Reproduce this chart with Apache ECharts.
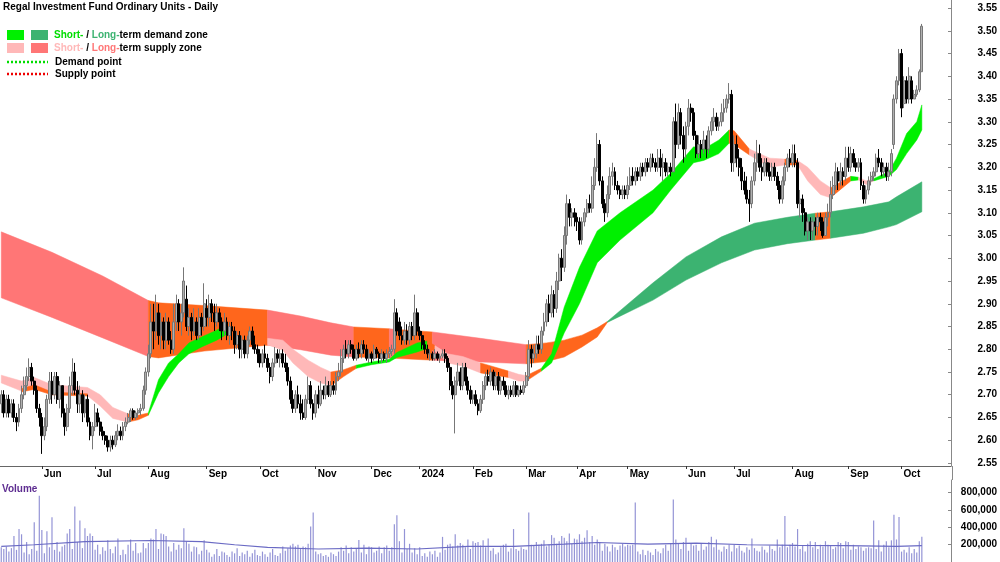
<!DOCTYPE html>
<html><head><meta charset="utf-8">
<script src="https://cdn.jsdelivr.net/npm/echarts@6/dist/echarts.min.js"></script>
<style>html,body{margin:0;padding:0;background:#fff}#c{width:1000px;height:562px}</style>
</head><body><div id="c"></div><script>
// ---------- categories ----------
const firstDay = '2023-05-10', lastDay = '2024-10-11';
const holidays = ['2023-06-12','2023-12-25','2023-12-26','2024-01-01','2024-01-26','2024-03-29','2024-04-01','2024-04-25','2024-06-10'];
const padDays = 11;
const monthNames = ['2024','Feb','Mar','Apr','May','Jun','Jul','Aug','Sep','Oct','Nov','Dec'];
const priceTicks = [2.55,2.60,2.65,2.70,2.75,2.80,2.85,2.90,2.95,3.00,3.05,3.10,3.15,3.20,3.25,3.30,3.35,3.40,3.45,3.50,3.55];
const volTicks = [200000,400000,600000,800000];

// ---------- price data (daily) ----------
const open = [
2.68,2.70,2.66,2.69,2.66, 2.68,2.65,2.64,2.67,2.70, 2.72,2.74,2.76,2.73,2.71, 2.67,2.65,2.61,2.63,2.69,
2.73,2.70,2.74,2.69,2.72, 2.66,2.63,2.67,2.72,2.75, 2.71,2.68,2.70,2.66,2.69, 2.64,2.61,2.63,2.66,2.64,
2.62,2.61,2.60,2.585,2.60, 2.59,2.61,2.62,2.61,2.63, 2.64,2.65,2.665,2.65,2.66, 2.665,2.67,2.71,2.75,2.79,
2.86,2.84,2.88,2.83,2.86, 2.82,2.86,2.82,2.80,2.86, 2.90,2.86,2.88,2.91,2.85, 2.87,2.84,2.86,2.83,2.87,
2.85,2.89,2.87,2.90,2.88, 2.86,2.88,2.86,2.84,2.86, 2.83,2.85,2.84,2.81,2.83, 2.80,2.82,2.79,2.82,2.84,
2.81,2.80,2.79,2.77,2.79, 2.78,2.76,2.74,2.77,2.79, 2.78,2.79,2.77,2.76,2.73, 2.69,2.67,2.70,2.68,2.66,
2.65,2.69,2.72,2.68,2.66, 2.70,2.68,2.71,2.70,2.72, 2.70,2.72,2.71,2.74,2.75, 2.78,2.80,2.79,2.81,2.80,
2.78,2.80,2.79,2.81,2.80, 2.78,2.79,2.78,2.80,2.79, 2.78,2.79,2.78,2.79,2.795, 2.80,2.88,2.86,2.83,2.82,
2.84,2.82,2.85,2.83,2.88, 2.84,2.83,2.81,2.80,2.79, 2.79,2.78,2.79,2.78,2.785, 2.79,2.78,2.76,2.72,2.70,
2.73,2.75,2.72,2.76,2.73, 2.71,2.69,2.70,2.68,2.665, 2.69,2.72,2.74,2.73,2.75, 2.72,2.74,2.71,2.73,2.72,
2.70,2.71,2.70,2.72,2.70, 2.71,2.705,2.72,2.74,2.80, 2.78,2.79,2.81,2.80,2.84, 2.86,2.90,2.88,2.92,2.89,
2.95,3.00,2.98,3.05,3.12, 3.09,3.10,3.09,3.08,3.04, 3.08,3.10,3.12,3.11,3.16, 3.20,3.25,3.17,3.12,3.10,
3.14,3.18,3.19,3.16,3.15, 3.14,3.15,3.14,3.16,3.18, 3.17,3.19,3.18,3.20,3.19, 3.21,3.20,3.22,3.21,3.20,
3.22,3.20,3.21,3.19,3.20, 3.19,3.30,3.25,3.32,3.27, 3.24,3.29,3.33,3.32,3.27, 3.23,3.25,3.24,3.26,3.24,
3.28,3.30,3.31,3.29,3.30, 3.32,3.33,3.35,3.36,3.21, 3.25,3.22,3.20,3.17,3.15, 3.13,3.12,3.17,3.21,3.23,
3.20,3.19,3.21,3.19,3.18, 3.20,3.18,3.16,3.13,3.17, 3.20,3.22,3.21,3.23,3.21, 3.12,3.13,3.10,3.06,3.08,
3.06,3.08,3.07,3.09,3.08, 3.05,3.09,3.10,3.14,3.16, 3.19,3.17,3.19,3.18,3.22, 3.20,3.23,3.21,3.20,3.21,
3.16,3.13,3.15,3.17,3.18, 3.19,3.22,3.21,3.19,3.20, 3.18,3.19,3.25,3.35,3.39, 3.45,3.34,3.39,3.35,3.39,
3.35,3.36,3.37,3.41];
const close = [
2.70,2.66,2.69,2.66,2.68, 2.65,2.64,2.67,2.70,2.72, 2.74,2.76,2.73,2.71,2.67, 2.65,2.61,2.63,2.69,2.73,
2.70,2.74,2.69,2.72,2.66, 2.63,2.67,2.72,2.75,2.71, 2.68,2.70,2.66,2.69,2.64, 2.61,2.63,2.66,2.64,2.62,
2.61,2.60,2.585,2.60,2.59, 2.61,2.62,2.61,2.63,2.64, 2.65,2.665,2.65,2.66,2.665, 2.67,2.71,2.75,2.79,2.86,
2.84,2.88,2.83,2.86,2.82, 2.86,2.82,2.80,2.86,2.90, 2.86,2.88,2.95,2.85,2.87, 2.84,2.86,2.83,2.87,2.85,
2.90,2.87,2.90,2.88,2.86, 2.88,2.86,2.84,2.86,2.83, 2.85,2.84,2.81,2.83,2.80, 2.82,2.79,2.82,2.84,2.81,
2.80,2.79,2.77,2.79,2.78, 2.76,2.74,2.77,2.79,2.78, 2.79,2.77,2.76,2.73,2.69, 2.67,2.70,2.68,2.66,2.65,
2.69,2.72,2.68,2.66,2.70, 2.68,2.71,2.70,2.72,2.70, 2.72,2.71,2.74,2.75,2.78, 2.80,2.79,2.81,2.80,2.78,
2.80,2.79,2.81,2.80,2.78, 2.79,2.78,2.80,2.79,2.78, 2.79,2.78,2.79,2.795,2.80, 2.88,2.84,2.83,2.82,2.84,
2.82,2.85,2.83,2.88,2.84, 2.83,2.81,2.80,2.79,2.79, 2.78,2.79,2.78,2.785,2.79, 2.78,2.76,2.72,2.70,2.73,
2.75,2.72,2.76,2.73,2.71, 2.69,2.70,2.68,2.665,2.69, 2.72,2.74,2.73,2.75,2.72, 2.74,2.71,2.73,2.72,2.70,
2.71,2.70,2.72,2.70,2.71, 2.705,2.72,2.74,2.80,2.78, 2.79,2.81,2.80,2.84,2.86, 2.90,2.88,2.92,2.89,2.95,
3.00,2.98,3.05,3.12,3.09, 3.10,3.09,3.08,3.04,3.08, 3.10,3.12,3.11,3.16,3.20, 3.25,3.17,3.12,3.10,3.14,
3.18,3.19,3.16,3.15,3.14, 3.15,3.14,3.16,3.18,3.17, 3.19,3.18,3.20,3.19,3.21, 3.20,3.22,3.21,3.20,3.22,
3.20,3.21,3.19,3.20,3.19, 3.30,3.25,3.32,3.27,3.24, 3.29,3.33,3.32,3.27,3.23, 3.25,3.24,3.26,3.24,3.28,
3.30,3.31,3.29,3.30,3.32, 3.33,3.35,3.36,3.21,3.25, 3.22,3.20,3.17,3.15,3.13, 3.12,3.17,3.21,3.23,3.20,
3.19,3.21,3.19,3.18,3.20, 3.18,3.16,3.13,3.17,3.20, 3.22,3.21,3.23,3.21,3.12, 3.13,3.10,3.06,3.08,3.06,
3.08,3.07,3.09,3.08,3.05, 3.09,3.10,3.14,3.16,3.19, 3.17,3.19,3.18,3.22,3.20, 3.23,3.21,3.20,3.21,3.16,
3.13,3.15,3.17,3.18,3.19, 3.22,3.21,3.19,3.20,3.18, 3.19,3.23,3.35,3.39,3.45, 3.33,3.39,3.35,3.40,3.35,
3.36,3.37,3.41,3.51];
const low = [
2.66,2.65,2.65,2.65,2.65, 2.64,2.62,2.63,2.66,2.69, 2.71,2.73,2.72,2.70,2.66, 2.63,2.57,2.60,2.62,2.68,
2.68,2.69,2.68,2.67,2.65, 2.61,2.62,2.66,2.70,2.70, 2.66,2.66,2.64,2.65,2.63, 2.60,2.58,2.62,2.63,2.61,
2.60,2.59,2.575,2.575,2.58, 2.585,2.60,2.60,2.60,2.62, 2.635,2.64,2.645,2.645,2.65, 2.655,2.665,2.70,2.74,2.78,
2.80,2.82,2.81,2.80,2.80, 2.80,2.81,2.79,2.79,2.84, 2.84,2.83,2.87,2.84,2.83, 2.82,2.83,2.82,2.82,2.83,
2.84,2.85,2.85,2.86,2.84, 2.85,2.84,2.82,2.83,2.82, 2.81,2.82,2.79,2.80,2.78, 2.78,2.78,2.78,2.81,2.80,
2.79,2.77,2.76,2.76,2.77, 2.75,2.725,2.73,2.76,2.77, 2.76,2.76,2.75,2.72,2.68, 2.66,2.66,2.67,2.645,2.645,
2.645,2.68,2.67,2.645,2.65, 2.67,2.675,2.69,2.69,2.695, 2.695,2.70,2.70,2.73,2.74, 2.77,2.78,2.78,2.79,2.775,
2.775,2.78,2.78,2.79,2.775, 2.77,2.77,2.775,2.78,2.77, 2.77,2.775,2.77,2.78,2.785, 2.79,2.83,2.82,2.81,2.81,
2.81,2.81,2.82,2.82,2.83, 2.82,2.80,2.79,2.78,2.775, 2.775,2.775,2.775,2.77,2.78, 2.77,2.75,2.71,2.69,2.615,
2.72,2.71,2.71,2.72,2.70, 2.68,2.68,2.675,2.655,2.66, 2.68,2.71,2.72,2.72,2.71, 2.71,2.70,2.70,2.71,2.695,
2.69,2.695,2.695,2.695,2.695, 2.70,2.70,2.715,2.73,2.76, 2.77,2.78,2.79,2.79,2.83, 2.85,2.86,2.87,2.87,2.88,
2.93,2.95,2.97,3.03,3.07, 3.07,3.07,3.06,3.03,3.03, 3.07,3.09,3.10,3.10,3.15, 3.19,3.16,3.11,3.08,3.09,
3.13,3.16,3.15,3.14,3.13, 3.13,3.13,3.13,3.15,3.16, 3.16,3.17,3.17,3.18,3.18, 3.19,3.19,3.20,3.19,3.19,
3.18,3.17,3.18,3.18,3.18, 3.19,3.22,3.24,3.25,3.21, 3.22,3.27,3.30,3.26,3.22, 3.22,3.22,3.23,3.22,3.23,
3.27,3.28,3.28,3.28,3.29, 3.30,3.32,3.34,3.19,3.19, 3.20,3.18,3.15,3.14,3.12, 3.08,3.11,3.16,3.19,3.19,
3.17,3.18,3.18,3.17,3.17, 3.17,3.15,3.12,3.12,3.16, 3.19,3.20,3.20,3.20,3.11, 3.09,3.08,3.05,3.04,3.04,
3.04,3.05,3.05,3.06,3.045, 3.05,3.07,3.09,3.13,3.15, 3.15,3.16,3.16,3.17,3.19, 3.19,3.20,3.19,3.19,3.15,
3.12,3.12,3.14,3.16,3.17, 3.18,3.20,3.18,3.18,3.17, 3.17,3.18,3.24,3.34,3.38, 3.31,3.33,3.34,3.34,3.34,
3.35,3.355,3.365,3.41];
const high = [
2.71,2.71,2.70,2.70,2.69, 2.69,2.66,2.68,2.72,2.74, 2.76,2.78,2.77,2.74,2.72, 2.68,2.66,2.65,2.70,2.75,
2.75,2.75,2.75,2.73,2.72, 2.67,2.68,2.74,2.78,2.77, 2.73,2.72,2.71,2.70,2.70, 2.65,2.64,2.68,2.67,2.65,
2.63,2.62,2.61,2.61,2.61, 2.62,2.635,2.63,2.64,2.65, 2.66,2.67,2.67,2.665,2.67, 2.68,2.72,2.76,2.81,2.90,
2.90,2.92,2.90,2.88,2.87, 2.88,2.87,2.84,2.90,2.92, 2.91,2.90,2.98,2.94,2.89, 2.88,2.89,2.87,2.89,2.88,
2.945,2.91,2.92,2.91,2.90, 2.90,2.89,2.87,2.88,2.87, 2.86,2.86,2.85,2.84,2.84, 2.83,2.83,2.83,2.85,2.85,
2.83,2.81,2.80,2.80,2.81, 2.79,2.77,2.78,2.805,2.80, 2.80,2.80,2.79,2.77,2.74, 2.71,2.71,2.72,2.70,2.69,
2.70,2.74,2.73,2.69,2.71, 2.72,2.73,2.72,2.74,2.73, 2.73,2.73,2.75,2.77,2.80, 2.81,2.82,2.82,2.82,2.81,
2.81,2.815,2.82,2.82,2.81, 2.80,2.795,2.81,2.805,2.795, 2.80,2.795,2.80,2.805,2.81, 2.91,2.89,2.87,2.85,2.86,
2.855,2.86,2.86,2.92,2.89, 2.85,2.84,2.82,2.81,2.80, 2.795,2.80,2.795,2.79,2.80, 2.80,2.785,2.77,2.73,2.74,
2.77,2.76,2.77,2.77,2.74, 2.72,2.71,2.71,2.69,2.70, 2.73,2.75,2.755,2.76,2.755, 2.75,2.75,2.74,2.74,2.73,
2.72,2.72,2.73,2.73,2.72, 2.72,2.73,2.75,2.82,2.81, 2.81,2.83,2.83,2.85,2.88, 2.91,2.92,2.94,2.93,2.97,
3.01,3.02,3.07,3.14,3.13, 3.11,3.11,3.10,3.09,3.09, 3.11,3.13,3.14,3.18,3.22, 3.275,3.26,3.18,3.13,3.16,
3.20,3.21,3.20,3.17,3.16, 3.16,3.16,3.18,3.20,3.20, 3.20,3.20,3.21,3.21,3.22, 3.22,3.23,3.23,3.22,3.24,
3.24,3.23,3.22,3.21,3.21, 3.31,3.34,3.34,3.33,3.29, 3.30,3.35,3.34,3.33,3.28, 3.27,3.26,3.28,3.27,3.29,
3.31,3.33,3.32,3.31,3.34, 3.35,3.36,3.385,3.37,3.27, 3.27,3.24,3.22,3.19,3.18, 3.15,3.18,3.23,3.26,3.25,
3.22,3.22,3.22,3.21,3.21, 3.21,3.19,3.17,3.18,3.21, 3.23,3.24,3.25,3.25,3.22, 3.15,3.14,3.11,3.09,3.09,
3.09,3.09,3.10,3.10,3.09, 3.10,3.12,3.17,3.18,3.21, 3.20,3.21,3.20,3.245,3.245, 3.245,3.24,3.22,3.22,3.22,
3.17,3.16,3.18,3.19,3.20, 3.23,3.24,3.22,3.21,3.21, 3.21,3.24,3.36,3.40,3.46, 3.46,3.40,3.40,3.42,3.40,
3.37,3.38,3.415,3.515];
const volume = [
170000,150000,180000,120000,160000,300000,140000,380000,320000,110000,
230000,90000,150000,460000,130000,765000,370000,100000,355000,170000,
515000,140000,230000,120000,180000,200000,330000,380000,150000,640000,
230000,480000,160000,390000,300000,330000,300000,140000,200000,90000,
170000,130000,250000,150000,100000,180000,270000,80000,140000,90000,
200000,260000,130000,220000,100000,110000,220000,160000,220000,270000,
260000,380000,150000,330000,320000,300000,180000,120000,220000,140000,
200000,160000,390000,240000,210000,120000,180000,170000,90000,130000,
250000,140000,110000,60000,90000,150000,70000,120000,110000,80000,
60000,120000,100000,160000,70000,110000,90000,130000,60000,100000,
140000,80000,70000,120000,90000,60000,110000,150000,80000,70000,
100000,180000,130000,160000,190000,210000,180000,200000,160000,180000,
170000,210000,410000,570000,120000,90000,100000,70000,80000,60000,
110000,90000,70000,120000,170000,130000,190000,100000,170000,120000,
150000,255000,110000,200000,90000,180000,170000,110000,130000,180000,
100000,170000,190000,130000,170000,435000,540000,240000,110000,380000,
150000,210000,110000,160000,90000,170000,70000,100000,60000,120000,
90000,130000,60000,110000,290000,140000,200000,210000,180000,320000,
190000,220000,200000,170000,260000,150000,240000,220000,230000,190000,
250000,170000,270000,130000,160000,90000,110000,170000,200000,210000,
120000,160000,380000,150000,130000,170000,150000,140000,570000,200000,
190000,230000,200000,210000,250000,180000,200000,310000,280000,210000,
240000,300000,280000,240000,330000,210000,270000,260000,320000,240000,
280000,365000,230000,300000,200000,260000,230000,130000,210000,180000,
120000,200000,170000,140000,190000,210000,180000,200000,190000,200000,
685000,120000,90000,140000,80000,130000,110000,80000,150000,120000,
100000,160000,200000,130000,210000,720000,260000,210000,150000,230000,
280000,130000,210000,190000,200000,130000,220000,140000,180000,230000,
290000,170000,260000,140000,120000,180000,150000,200000,120000,200000,
160000,190000,130000,110000,170000,140000,270000,160000,130000,120000,
180000,140000,110000,190000,150000,130000,260000,170000,200000,530000,
170000,200000,220000,180000,380000,150000,190000,120000,210000,240000,
170000,230000,150000,200000,180000,240000,200000,190000,150000,170000,
230000,220000,160000,240000,230000,140000,200000,150000,180000,170000,
130000,160000,170000,160000,480000,150000,250000,120000,200000,240000,
170000,250000,545000,260000,520000,120000,140000,110000,170000,100000,
150000,110000,240000,290000];
// volume average line, read at sparse days [dayIndex, value]
const volAvg = [[0,180000],[13,199000],[33,236000],[59,248000],[79,236000],[92,199000],[105,169000],[125,150000],[144,161000],[164,150000],[184,180000],[202,180000],[222,206000],[235,225000],[255,206000],[274,218000],[294,199000],[314,191000],[333,188000],[353,180000],[363,188000]];

// ---------- zones: knots [dayIndex, upper, lower]; segments [fromKnot, toKnot, kind] ----------
const longKnots = [[0,3.058,2.913],[20,3.013,2.870],[40,2.961,2.825],[58,2.907,2.784],[62,2.902,2.781],[80,2.896,2.796],
 [105,2.886,2.809],[118,2.873,2.799],[130,2.858,2.787],[139,2.849,2.783],[153,2.845,2.781],[155,2.844,2.780],[170,2.838,2.776],
 [189,2.824,2.772],[207,2.810,2.768],[215,2.814,2.773],[222,2.820,2.783],[229,2.831,2.805],[235,2.847,2.827],[239,2.861,2.859],
 [257,2.946,2.908],[270,3.003,2.952],[284,3.047,2.990],[297,3.077,3.018],[310,3.090,3.032],[321,3.099,3.040],[327,3.102,3.044],
 [340,3.113,3.055],[350,3.124,3.069],[353,3.135,3.074],[363,3.168,3.102]];
const longSegs = [[0,3,'ls'],[3,6,'o'],[6,9,'ls'],[9,10,'o'],[10,11,'ls'],[11,12,'o'],[12,14,'ls'],[14,19,'o'],[19,25,'ld'],[25,26,'o'],[26,30,'ld']];
const shortKnots = [[0,2.743,2.726],[8,2.730,2.708],[13,2.738,2.712],[20,2.722,2.700],[34,2.716,2.698],[39,2.700,2.675],[44,2.672,2.648],
 [50,2.658,2.640],[54,2.655,2.645],[58,2.660,2.655],[62,2.733,2.704],[66,2.770,2.740],[70,2.790,2.770],[74,2.814,2.790],[79,2.827,2.805],
 [85,2.842,2.820],[89,2.855,2.833],[95,2.845,2.825],[105,2.824,2.810],[111,2.820,2.798],[115,2.800,2.770],[121,2.776,2.740],[126,2.760,2.726],
 [130,2.750,2.720],[135,2.755,2.740],[140,2.765,2.758],[146,2.772,2.766],[153,2.778,2.772],[156,2.793,2.782],[164,2.814,2.794],[168,2.818,2.802],
 [171,2.808,2.796],[176,2.790,2.770],[182,2.784,2.763],[189,2.770,2.748],[200,2.752,2.738],[204,2.745,2.730],[207,2.742,2.730],[213,2.758,2.752],
 [217,2.790,2.770],[222,2.893,2.836],[228,2.980,2.900],[235,3.060,2.990],[244,3.100,3.040],[257,3.150,3.100],[264,3.187,3.150],[273,3.245,3.210],
 [277,3.240,3.215],[283,3.260,3.230],[287,3.282,3.253],[289,3.280,3.250],[295,3.240,3.227],[303,3.220,3.200],[309,3.218,3.205],[314,3.215,3.205],
 [318,3.200,3.170],[323,3.170,3.140],[327,3.155,3.133],[335,3.180,3.170],[338,3.178,3.172],[341,3.170,3.162],[344,3.175,3.170],[350,3.190,3.180],
 [353,3.220,3.195],[357,3.274,3.230],[361,3.300,3.260],[363,3.337,3.282]];
const shortSegs = [[0,7,'ss'],[7,9,'o'],[9,16,'sd'],[16,18,'o'],[18,23,'ss'],[23,25,'o'],[25,30,'sd'],[30,31,'o'],[31,34,'ss'],[34,35,'o'],
 [35,37,'ss'],[37,38,'o'],[38,49,'sd'],[49,51,'o'],[51,53,'ss'],[53,54,'o'],[54,57,'ss'],[57,58,'o'],[58,59,'sd'],[59,61,'ss'],[61,66,'sd']];
const shortInnerKnots = [[8,2.713,2.706],[13,2.722,2.712],[20,2.706,2.700],[34,2.702,2.697]];
const shortInnerSegs = [[0,3,'o']];

// ---------- build ----------
const holidaySet = new Set(holidays);
function buildDays() {
  const out = [];
  const d = new Date(firstDay + 'T00:00:00Z');
  const end = new Date(lastDay + 'T00:00:00Z');
  let extra = 0;
  while (true) {
    const wd = d.getUTCDay();
    const s = d.toISOString().slice(0, 10);
    if (wd !== 0 && wd !== 6 && !holidaySet.has(s)) {
      if (d > end) { if (extra >= padDays) break; extra++; }
      out.push(s);
    }
    d.setUTCDate(d.getUTCDate() + 1);
  }
  return out;
}
const days = buildDays();
const monthOf = s => +s.slice(5, 7);
const isMonthStart = i => i > 0 && monthOf(days[i]) !== monthOf(days[i - 1]);

const COLORS = { ss: '#ffb8b8', ls: '#ff7676', sd: '#00f000', ld: '#3cb371', o: '#ff661c' };
const FONT = '"Liberation Sans", Arial, sans-serif';

function zoneSeries(knots, segs, z) {
  return {
    type: 'custom', xAxisIndex: 0, yAxisIndex: 0, z: z, silent: true, clip: true,
    data: segs.map(s => [knots[s[0]][0], knots[s[0]][1]]),
    renderItem: function (params, api) {
      const s = segs[params.dataIndex];
      const pts = [];
      for (let k = s[0]; k <= s[1]; k++) pts.push(api.coord([knots[k][0], knots[k][1]]));
      for (let k = s[1]; k >= s[0]; k--) pts.push(api.coord([knots[k][0], knots[k][2]]));
      return { type: 'polygon', shape: { points: pts }, style: { fill: COLORS[s[2]], stroke: COLORS[s[2]], lineWidth: 0.5 } };
    }
  };
}

const candles = open.map((o, i) => [o, close[i], low[i], high[i]]);

const chart = echarts.init(document.getElementById('c'), null, { renderer: 'canvas' });
chart.setOption({
  animation: false,
  backgroundColor: '#fff',
  grid: [
    { left: 0, right: 48, top: 0, height: 466 },
    { left: 0, right: 48, top: 480, height: 84 }
  ],
  xAxis: [
    { type: 'category', gridIndex: 0, data: days, boundaryGap: true,
      axisLine: { show: true, lineStyle: { color: '#666', width: 1 } },
      axisTick: { show: true, alignWithLabel: true, interval: (i) => isMonthStart(i), length: 3, lineStyle: { color: '#333' } },
      axisLabel: { interval: (i) => isMonthStart(i), formatter: (v) => monthNames[monthOf(v) - 1],
        align: 'left', padding: [0, 0, 0, 2], margin: 3, fontSize: 10, fontWeight: 'bold', color: '#000', fontFamily: FONT },
      splitLine: { show: false } },
    { type: 'category', gridIndex: 1, data: days, boundaryGap: true, position: 'top',
      axisLine: { show: true, lineStyle: { color: '#666', width: 1 } },
      axisTick: { show: false }, axisLabel: { show: false }, splitLine: { show: false } }
  ],
  yAxis: [
    { type: 'value', gridIndex: 0, position: 'right', min: 2.5434, max: 3.5676,
      axisLine: { show: true, lineStyle: { color: '#888' } },
      axisTick: { show: true, inside: true, length: 3, customValues: priceTicks, lineStyle: { color: '#888' } },
      axisLabel: { customValues: priceTicks, formatter: (v) => v.toFixed(2), align: 'right', margin: 46,
        fontSize: 10, fontWeight: 'bold', color: '#000', fontFamily: FONT },
      splitLine: { show: false } },
    { type: 'value', gridIndex: 1, position: 'right', min: 0, max: 946000,
      axisLine: { show: true, lineStyle: { color: '#888' } },
      axisTick: { show: true, inside: true, length: 3, customValues: volTicks, lineStyle: { color: '#888' } },
      axisLabel: { customValues: volTicks, formatter: (v) => v.toLocaleString('en-US'), align: 'right', margin: 46,
        fontSize: 10, fontWeight: 'bold', color: '#000', fontFamily: FONT },
      splitLine: { show: false } }
  ],
  series: [
    zoneSeries(longKnots, longSegs, 1),
    zoneSeries(shortKnots, shortSegs, 2),
    zoneSeries(shortInnerKnots, shortInnerSegs, 3),
    { type: 'candlestick', xAxisIndex: 0, yAxisIndex: 0, z: 5, barWidth: 2.4, data: candles,
      itemStyle: { color: '#b0b0b0', color0: '#000000', borderColor: '#777777', borderColor0: '#000000', borderWidth: 1 } },
    { type: 'bar', xAxisIndex: 1, yAxisIndex: 1, data: volume, barWidth: 1.2, itemStyle: { color: '#9494d6' }, z: 2 },
    { type: 'line', xAxisIndex: 1, yAxisIndex: 1, data: volAvg, symbol: 'none', z: 3,
      lineStyle: { color: '#6a6ac4', width: 1.2 } }
  ],
  graphic: [
    { type: 'text', left: 3, top: 2, style: { text: 'Regal Investment Fund Ordinary Units - Daily', font: 'bold 10px ' + FONT, fill: '#000' } },
    { type: 'rect', shape: { x: 7, y: 30, width: 17, height: 10 }, style: { fill: COLORS.sd } },
    { type: 'rect', shape: { x: 31, y: 30, width: 17, height: 10 }, style: { fill: COLORS.ld } },
    { type: 'text', x: 54, y: 35, style: { text: '{g|Short-}{k| / }{G|Long-}{k|term demand zone}', verticalAlign: 'middle',
        rich: { g: { fill: '#00dd00', font: 'bold 10px ' + FONT }, G: { fill: COLORS.ld, font: 'bold 10px ' + FONT }, k: { fill: '#000', font: 'bold 10px ' + FONT } } } },
    { type: 'rect', shape: { x: 7, y: 43, width: 17, height: 10 }, style: { fill: COLORS.ss } },
    { type: 'rect', shape: { x: 31, y: 43, width: 17, height: 10 }, style: { fill: COLORS.ls } },
    { type: 'text', x: 54, y: 48, style: { text: '{p|Short-}{k| / }{P|Long-}{k|term supply zone}', verticalAlign: 'middle',
        rich: { p: { fill: COLORS.ss, font: 'bold 10px ' + FONT }, P: { fill: COLORS.ls, font: 'bold 10px ' + FONT }, k: { fill: '#000', font: 'bold 10px ' + FONT } } } },
    { type: 'line', shape: { x1: 7, y1: 62, x2: 48, y2: 62 }, style: { stroke: '#00dd00', lineWidth: 2.5, lineDash: [2, 2] } },
    { type: 'text', x: 55, y: 62, style: { text: 'Demand point', verticalAlign: 'middle', font: 'bold 10px ' + FONT, fill: '#000' } },
    { type: 'line', shape: { x1: 7, y1: 74, x2: 48, y2: 74 }, style: { stroke: '#ee0000', lineWidth: 2.5, lineDash: [2, 2] } },
    { type: 'text', x: 55, y: 74, style: { text: 'Supply point', verticalAlign: 'middle', font: 'bold 10px ' + FONT, fill: '#000' } },
    { type: 'text', x: 2, y: 484, style: { text: 'Volume', font: 'bold 10px ' + FONT, fill: '#5e2d91' } },
    { type: 'line', shape: { x1: 952.5, y1: 466, x2: 952.5, y2: 480 }, style: { stroke: '#888', lineWidth: 1 } }
  ]
});
</script></body></html>
